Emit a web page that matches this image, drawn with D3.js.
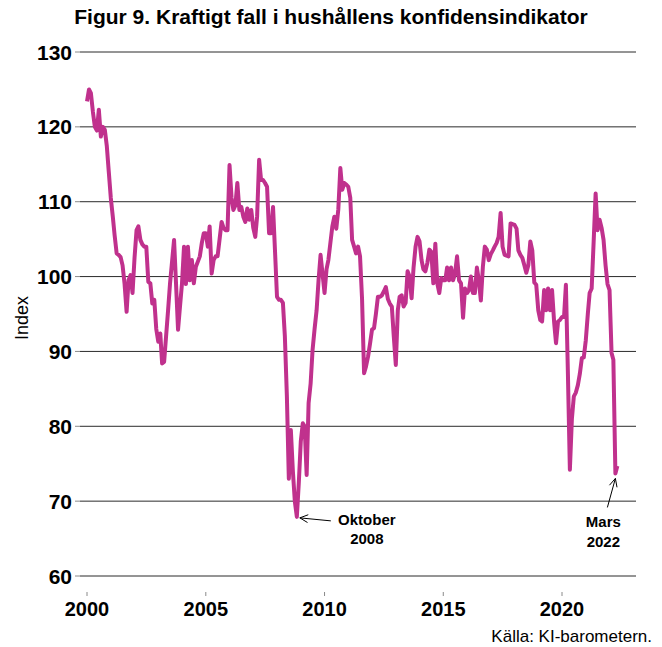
<!DOCTYPE html>
<html>
<head>
<meta charset="utf-8">
<script src="https://cdn.jsdelivr.net/npm/d3@7/dist/d3.min.js"></script>
<style>
  body { margin: 0; background: #fff; }
  svg { display: block; font-family: "Liberation Sans", Arial, sans-serif; }
</style>
</head>
<body>
<svg id="chart" width="662" height="647"></svg>
<script>
// Hushållens konfidensindikator, månadsvärden från januari 2000
const startYear = 2000;
const confidence = [
  123.4, 125.0, 124.5, 122.0, 120.0, 119.5, 122.3, 118.7, 120.0, 119.6, 117.4, 114.0,
  110.5, 108.0, 105.5, 103.1, 102.9, 102.6, 101.5, 99.0, 95.3, 99.5, 100.2, 97.8,
  102.5, 106.2, 106.7, 104.9, 104.3, 104.0, 104.0, 99.3, 99.1, 96.4, 96.9, 93.0,
  91.3, 92.4, 88.4, 88.6, 92.0, 95.5, 99.1, 102.0, 104.9, 99.1, 92.9, 96.0,
  99.1, 104.0, 99.0, 104.0, 99.5, 102.2, 99.1, 101.3, 102.0, 102.7, 104.5, 105.8,
  105.8, 104.0, 106.7, 100.4, 102.2, 102.7, 102.7, 105.0, 107.3, 106.5, 106.2, 106.2,
  114.9, 110.5, 108.9, 109.5, 112.5, 108.9, 109.3, 108.0, 107.3, 109.1, 107.6, 108.9,
  106.5, 105.3, 108.0, 115.6, 112.9, 112.9, 112.5, 112.0, 105.8, 105.8, 109.3, 103.5,
  97.3, 96.9, 96.9, 96.5, 92.0, 84.0, 73.0, 79.5, 74.0, 70.0, 67.9, 72.4,
  78.0, 80.4, 80.0, 73.5, 83.1, 85.7, 90.2, 93.0, 95.5, 99.5, 102.9, 100.4,
  97.8, 101.0, 102.2, 104.5, 106.7, 108.0, 106.4, 109.0, 114.5, 111.6, 112.5, 112.3,
  112.0, 110.5, 104.9, 104.0, 103.1, 104.0, 102.7, 97.0, 87.1, 88.0, 89.3, 91.0,
  92.9, 93.1, 95.0, 97.3, 97.3, 97.5, 98.0, 98.6, 97.0, 96.4, 96.0, 92.0,
  88.2, 95.5, 97.3, 97.5, 96.0, 96.5, 100.7, 100.0, 97.1, 101.2, 104.0, 105.3,
  104.7, 102.2, 101.0, 100.7, 101.8, 103.6, 103.3, 99.1, 104.4, 99.1, 97.8, 99.8,
  99.5, 99.5, 101.2, 99.5, 101.2, 99.5, 100.4, 102.7, 99.5, 99.1, 94.5, 98.4,
  97.8, 98.2, 100.0, 97.8, 97.8, 101.2, 99.5, 96.8, 101.3, 104.0, 103.6, 102.2,
  103.0, 103.5, 104.0, 104.5, 105.3, 108.5, 104.0, 102.9, 102.8, 102.7, 107.1, 107.0,
  106.9, 106.4, 103.5, 102.9, 102.5, 101.5, 100.5, 101.5, 104.7, 103.5, 99.2, 98.9,
  95.5, 94.2, 94.0, 98.2, 95.5, 98.4, 95.5, 98.2, 94.0, 91.1, 94.0, 94.2,
  94.6, 94.6, 98.9, 87.0, 74.2, 81.0, 84.0, 84.5, 85.5, 87.0, 89.1, 89.2,
  91.5, 95.0, 97.8, 98.4, 104.5, 111.1, 106.2, 107.6, 106.5, 104.9, 101.5, 99.0,
  98.2, 89.8, 88.9, 73.7, 74.7
];
const yTicks = [60, 70, 80, 90, 100, 110, 120, 130];
const xTickYears = [2000, 2005, 2010, 2015, 2020];

const titleText = "Figur 9. Kraftigt fall i hushållens konfidensindikator";
const yAxisLabel = "Index";
const sourceText = "Källa: KI-barometern.";
// Annotated months (index into confidence) with their two-line labels
const noteLines = [["Oktober", "2008"], ["Mars", "2022"]];
const noteIndex = [106, confidence.length - 2];

const series = confidence.map((v, i) => ({ date: new Date(startYear, i, 1), value: v }));

const svg = d3.select("#chart");
const lineColor = "#c0318d";

const x = d3.scaleTime()
  .domain([new Date(2000, 0, 1), new Date(2020, 0, 1)])
  .range([87, 562]);
const y = d3.scaleLinear().domain([60, 130]).range([576, 52]);

const plotLeft = 80, plotRight = 636;

// Horizontal gridlines with short tick marks on the left
const yAxis = svg.append("g").attr("class", "y-axis");
yAxis.selectAll("line.grid").data(yTicks).join("line")
  .attr("class", "grid")
  .attr("x1", plotLeft).attr("x2", plotRight)
  .attr("y1", d => y(d)).attr("y2", d => y(d))
  .attr("stroke", "#2b2b2b").attr("stroke-width", 1);
yAxis.selectAll("line.tick").data(yTicks).join("line")
  .attr("class", "tick")
  .attr("x1", plotLeft - 5).attr("x2", plotLeft)
  .attr("y1", d => y(d)).attr("y2", d => y(d))
  .attr("stroke", "#8a8a8a").attr("stroke-width", 1);
yAxis.selectAll("text").data(yTicks).join("text")
  .attr("x", 72).attr("y", d => y(d))
  .attr("dy", "0.36em")
  .attr("text-anchor", "end")
  .attr("font-weight", "bold").attr("font-size", 21)
  .attr("fill", "#000")
  .text(d => d);

// Year ticks along the bottom
const xAxis = svg.append("g").attr("class", "x-axis");
xAxis.selectAll("line").data(xTickYears).join("line")
  .attr("x1", d => x(new Date(d, 0, 1))).attr("x2", d => x(new Date(d, 0, 1)))
  .attr("y1", 592).attr("y2", 596)
  .attr("stroke", "#8a8a8a").attr("stroke-width", 1);
xAxis.selectAll("text").data(xTickYears).join("text")
  .attr("x", d => x(new Date(d, 0, 1))).attr("y", 616)
  .attr("text-anchor", "middle")
  .attr("font-weight", "bold").attr("font-size", 20)
  .attr("fill", "#000")
  .text(d => d);

// The indicator line
const line = d3.line()
  .x(d => x(d.date))
  .y(d => y(d.value))
  .curve(d3.curveLinear);
svg.append("path")
  .datum(series)
  .attr("d", line)
  .attr("fill", "none")
  .attr("stroke", lineColor)
  .attr("stroke-width", 4)
  .attr("stroke-linejoin", "round");

// Title, axis label and source
svg.append("text")
  .attr("x", 331).attr("y", 24)
  .attr("text-anchor", "middle")
  .attr("font-weight", "bold").attr("font-size", 21)
  .text(titleText);
svg.append("text")
  .attr("transform", "translate(28,318) rotate(-90)")
  .attr("text-anchor", "middle")
  .attr("font-size", 18)
  .text(yAxisLabel);
svg.append("text")
  .attr("x", 652).attr("y", 642)
  .attr("text-anchor", "end")
  .attr("font-size", 17)
  .text(sourceText);

// Annotations with open arrowheads
function arrow(x1, y1, x2, y2) {
  const g = svg.append("g").attr("stroke", "#000").attr("stroke-width", 1).attr("fill", "none");
  g.append("line").attr("x1", x1).attr("y1", y1).attr("x2", x2).attr("y2", y2);
  const ang = Math.atan2(y2 - y1, x2 - x1);
  const len = 9, spread = 0.45;
  const p = a => [x2 - len * Math.cos(ang + a), y2 - len * Math.sin(ang + a)];
  const [ax, ay] = p(spread), [bx, by] = p(-spread);
  g.append("path").attr("d", `M${ax},${ay}L${x2},${y2}L${bx},${by}`);
}

const octPt = series[noteIndex[0]];
const octX = x(octPt.date), octY = y(octPt.value);
arrow(octX + 34, octY + 4, octX + 3, octY + 1);
const octText = svg.append("text")
  .attr("text-anchor", "middle").attr("font-weight", "bold").attr("font-size", 15);
octText.selectAll("tspan").data(noteLines[0]).join("tspan")
  .attr("x", octX + 70).attr("y", (d, i) => octY + 8 + i * 19)
  .text(d => d);

const marPt = series[noteIndex[1]];
const marX = x(marPt.date), marY = y(marPt.value);
arrow(marX - 8, marY + 34, marX, marY + 5);
const marText = svg.append("text")
  .attr("text-anchor", "middle").attr("font-weight", "bold").attr("font-size", 15);
marText.selectAll("tspan").data(noteLines[1]).join("tspan")
  .attr("x", marX - 12).attr("y", (d, i) => marY + 54 + i * 20)
  .text(d => d);
</script>
</body>
</html>
